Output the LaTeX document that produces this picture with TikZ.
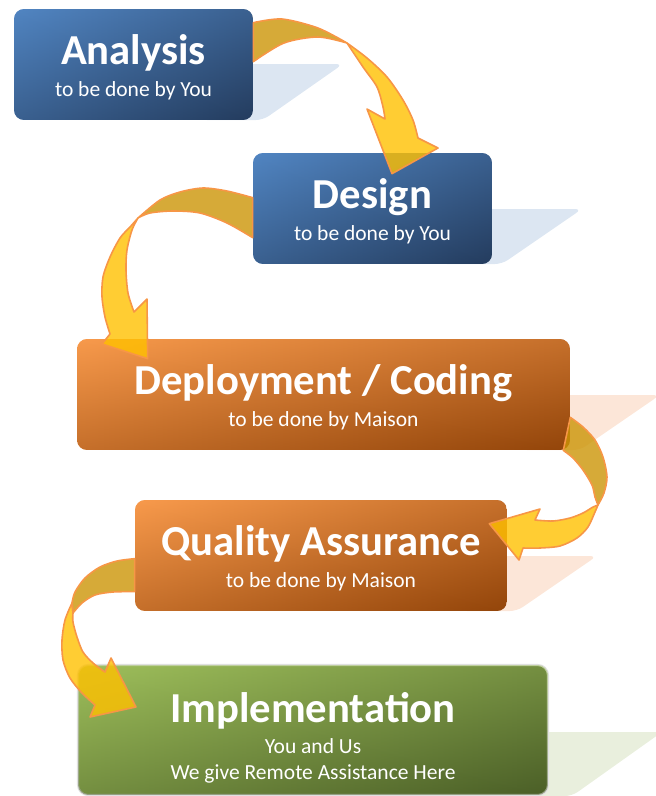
\documentclass[tikz,border=0pt]{standalone}
\usepackage{fontspec}
\setmainfont{Carlito}
\usepackage{xcolor}
\usepackage{tikz}
\usetikzlibrary{positioning}

\definecolor{bluelight}{HTML}{5185C2}
\definecolor{bluedark}{HTML}{243C5E}
\definecolor{orangelight}{HTML}{F89A4C}
\definecolor{orangedark}{HTML}{93450A}
\definecolor{greenlight}{HTML}{9EBF5B}
\definecolor{greendark}{HTML}{4B5F27}
\definecolor{blueshadow}{HTML}{DCE6F2}
\definecolor{orangeshadow}{HTML}{FCE6D8}
\definecolor{greenshadow}{HTML}{E9EFDD}
\definecolor{ribbonfront}{HTML}{FFC000}
\definecolor{ribbonback}{HTML}{CC9506}
\definecolor{ribbonline}{HTML}{F79646}

\newcommand{\stagetitle}[1][20.3pt]{\fontsize{24.3}{28}\selectfont\bfseries\rule{0pt}{#1}}
\newcommand{\stagetext}{\fontsize{12.25}{14.7}\selectfont\lineskiplimit=-20pt\relax}

\begin{document}
\begin{tikzpicture}[x=0.02cm, y=-0.02cm,
		stage/.style={rounded corners=0.2cm, inner sep=0pt, align=center,
			text=white, minimum height=2.22cm, font=\stagetext},
		tint/.style 2 args={left color=#1, right color=#2,
			postaction={top color=#1, bottom color=#2, fill opacity=0.5}},
		bluestage/.style={stage, tint={bluelight}{bluedark}},
		orangestage/.style={stage, tint={orangelight}{orangedark}},
		greenstage/.style={stage, tint={greenlight}{greendark}},
		backside/.style={fill=ribbonback, fill opacity=0.8, draw=ribbonline, line width=0.9pt, line join=round},
		frontside/.style={fill=ribbonfront, fill opacity=0.8, draw=ribbonline, line width=0.9pt, line join=round}]
		\useasboundingbox (0,0) rectangle (656,796);
		\clip (0,0) rectangle (656,796);

		\fill[blueshadow, rounded corners=4pt] (200,64) -- (343,64) -- (263,120) -- (200,120) -- cycle;
		\fill[blueshadow, rounded corners=4pt] (440,209) -- (582,209) -- (502,264) -- (440,264) -- cycle;
		\fill[orangeshadow, rounded corners=4pt] (520,395) -- (660,395) -- (580,450) -- (520,450) -- cycle;
		\fill[orangeshadow, rounded corners=4pt] (460,556) -- (597,556) -- (517,611) -- (460,611) -- cycle;
		\fill[greenshadow, rounded corners=4pt] (500,732) -- (662,732) -- (572,796) -- (500,796) -- cycle;

		\node[bluestage, minimum width=4.78cm] (analysis) at (133.5,64.5)
			{{\stagetitle Analysis}\\[3.4pt] to be done by You};
		\node[bluestage, minimum width=4.78cm] (design) at (372.5,208.5)
			{{\stagetitle Design}\\[3.4pt] to be done by You};
		\node[orangestage, minimum width=9.86cm] (deployment) at (323.5,394.5)
			{{\stagetitle Deployment / Coding}\\[3.4pt] to be done by Maison};
		\node[orangestage, minimum width=7.44cm] (quality) at (321,555.5)
			{{\stagetitle Quality Assurance}\\[3.4pt] to be done by Maison};
		\node[greenstage, minimum width=9.4cm, minimum height=2.6cm,
			draw=black!12, line width=1.2pt] (implementation) at (313,730)
			{{\stagetitle[26pt]Implementation}\\[3.4pt] You and Us\\ We give Remote Assistance Here};

		\filldraw[backside] plot[smooth] coordinates {([shift={(0,14)}]analysis.north east) (282,19) (318,28) (347,43)}
			-- plot[smooth] coordinates {(347,43) (318,37) (284,43) ([shift={(0,53)}]analysis.north east)} -- cycle;
		\filldraw[frontside] plot[smooth] coordinates {(347,43) (367,58) (387,77) (403,100) (413,120) (418,138)}
			-- (438,148) -- ([shift={(19.5,21)}]design.north) -- (367,109)
			-- plot[smooth] coordinates {(385,119) (383,107) (377,87) (363,67) (347,43)} -- cycle;

		\filldraw[backside] plot[smooth] coordinates {([shift={(0,45)}]design.north west) (227,191) (203,188) (180,192) (160,200) (138,218)}
			-- plot[smooth] coordinates {(138,218) (150,213) (173,211) (200,213) (227,223) ([shift={(0,85)}]design.north west)} -- cycle;
		\filldraw[frontside] plot[smooth] coordinates {(138,218) (130,227) (120,238) (110,257) (103,277) (102,297) (105,317) (110,334)}
			-- (102,344) -- ([shift={(71,20)}]deployment.north west) -- (147,299)
			-- plot[smooth] coordinates {(134,312) (128,293) (126,270) (127,250) (132,230) (138,218)} -- cycle;

		\filldraw[backside] plot[smooth] coordinates {([shift={(0,-33)}]deployment.south east) (583,427) (595,440) (603,457) (607,477) (604,493) (598,505)}
			-- plot[smooth] coordinates {(598,505) (595,497) (592,485) (583,470) (573,458) ([shift={(-7,0)}]deployment.south east)} -- cycle;
		\filldraw[frontside] plot[smooth] coordinates {(598,505) (595,512) (588,527) (577,538) (560,546) (540,548) (523,548)}
			-- (519,560) -- ([shift={(-18,24)}]quality.north east) -- (540,509)
			-- plot[smooth] coordinates {(535,520) (553,521) (570,518) (583,513) (593,507) (598,505)} -- cycle;

		\filldraw[backside] plot[smooth] coordinates {([shift={(0,59)}]quality.north west) (117,561) (100,567) (85,578) (75,592) (72,603)}
			-- plot[smooth] coordinates {(73,613) (82,603) (95,595) (113,592) ([shift={(0,92)}]quality.north west)} -- cycle;
		\filldraw[frontside] plot[smooth] coordinates {(72,603) (65,620) (62,640) (63,660) (70,678) (82,693) (95,705)}
			-- (90,717) -- ([shift={(59,43)}]implementation.north west) -- (111,658)
			-- plot[smooth] coordinates {(105,672) (93,663) (83,652) (77,637) (73,622) (73,613)} -- cycle;
	\end{tikzpicture}
\end{document}
